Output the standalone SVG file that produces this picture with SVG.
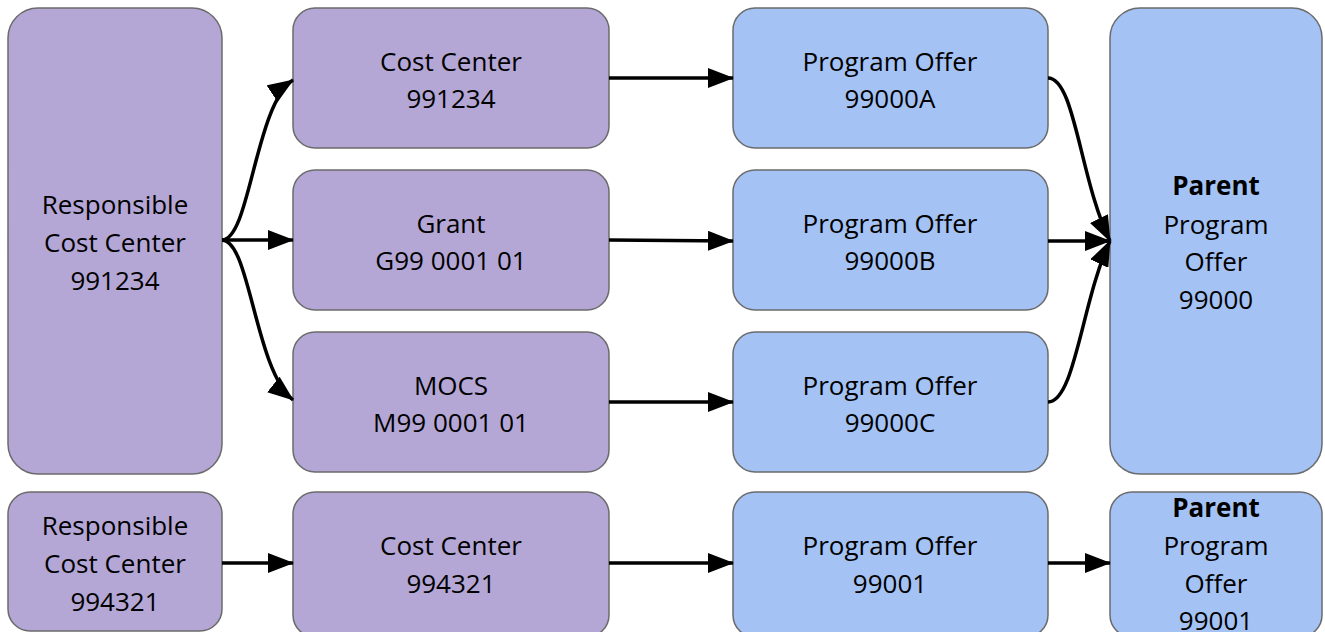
<svg xmlns="http://www.w3.org/2000/svg" width="1325" height="632" viewBox="0 0 1325 632">
<defs>
<style>
.p{fill:#b4a7d6;stroke:#6b6b6b;stroke-width:1.5}
.b{fill:#a4c2f4;stroke:#6b6b6b;stroke-width:1.5}
text{font-family:"Open Sans","Liberation Sans",sans-serif;font-size:26px;fill:#000;text-anchor:middle}
.bold{font-weight:bold}
.c{fill:none;stroke:#000;stroke-width:3.5}
</style>
<marker id="ah" viewBox="0 0 26 20" refX="25" refY="10" markerWidth="26" markerHeight="20" markerUnits="userSpaceOnUse" orient="auto">
<path d="M0,0 L26,10 L0,20 z" fill="#000"/>
</marker>
</defs>
<rect width="1325" height="632" fill="#fff"/>
<g id="resp1"><rect class="p" x="8" y="8" width="214" height="466" rx="30"/>
<text x="115" y="214">Responsible</text><text x="115" y="252">Cost Center</text><text x="115" y="290">991234</text></g>
<g id="cc1"><rect class="p" x="293" y="8" width="316" height="140" rx="22"/>
<text x="451" y="71">Cost Center</text><text x="451" y="108">991234</text></g>
<g id="grant"><rect class="p" x="293" y="170" width="316" height="140" rx="22"/>
<text x="451" y="233">Grant</text><text x="451" y="270">G99 0001 01</text></g>
<g id="mocs"><rect class="p" x="293" y="332" width="316" height="140" rx="22"/>
<text x="451" y="395">MOCS</text><text x="451" y="432">M99 0001 01</text></g>
<g id="poA"><rect class="b" x="733" y="8" width="315" height="140" rx="22"/>
<text x="890" y="71">Program Offer</text><text x="890" y="108">99000A</text></g>
<g id="poB"><rect class="b" x="733" y="170" width="315" height="140" rx="22"/>
<text x="890" y="233">Program Offer</text><text x="890" y="270">99000B</text></g>
<g id="poC"><rect class="b" x="733" y="332" width="315" height="140" rx="22"/>
<text x="890" y="395">Program Offer</text><text x="890" y="432">99000C</text></g>
<g id="parent1"><rect class="b" x="1110" y="8" width="212" height="466" rx="30"/>
<text x="1216" y="195" class="bold">Parent</text><text x="1216" y="234">Program</text><text x="1216" y="271">Offer</text><text x="1216" y="309">99000</text></g>
<g id="resp2"><rect class="p" x="8" y="492" width="214" height="139" rx="22"/>
<text x="115" y="535">Responsible</text><text x="115" y="573">Cost Center</text><text x="115" y="611">994321</text></g>
<g id="cc2"><rect class="p" x="293" y="492" width="316" height="145" rx="22"/>
<text x="451" y="555">Cost Center</text><text x="451" y="593">994321</text></g>
<g id="po2"><rect class="b" x="733" y="492" width="315" height="145" rx="22"/>
<text x="890" y="555">Program Offer</text><text x="890" y="593">99001</text></g>
<g id="parent2"><rect class="b" x="1110" y="492" width="212" height="145" rx="22"/>
<text x="1216" y="517" class="bold">Parent</text><text x="1216" y="555">Program</text><text x="1216" y="593">Offer</text><text x="1216" y="630">99001</text></g>
<g id="connectors">
<path class="c" marker-end="url(#ah)" d="M222,240 C250,240 255,105 293,80"/>
<path class="c" marker-end="url(#ah)" d="M222,240 L293,240"/>
<path class="c" marker-end="url(#ah)" d="M222,240 C250,240 255,370 293,400"/>
<path class="c" marker-end="url(#ah)" d="M609,78 L733,78"/>
<path class="c" marker-end="url(#ah)" d="M609,240 L733,241"/>
<path class="c" marker-end="url(#ah)" d="M609,402 L733,402"/>
<path class="c" marker-end="url(#ah)" d="M1048,78 C1075,78 1080,180 1110,241"/>
<path class="c" marker-end="url(#ah)" d="M1048,241 L1110,241"/>
<path class="c" marker-end="url(#ah)" d="M1048,402 C1075,402 1082,300 1110,241"/>
<path class="c" marker-end="url(#ah)" d="M222,563 L293,563"/>
<path class="c" marker-end="url(#ah)" d="M609,563 L733,563"/>
<path class="c" marker-end="url(#ah)" d="M1048,563 L1110,563"/>
</g>
</svg>
